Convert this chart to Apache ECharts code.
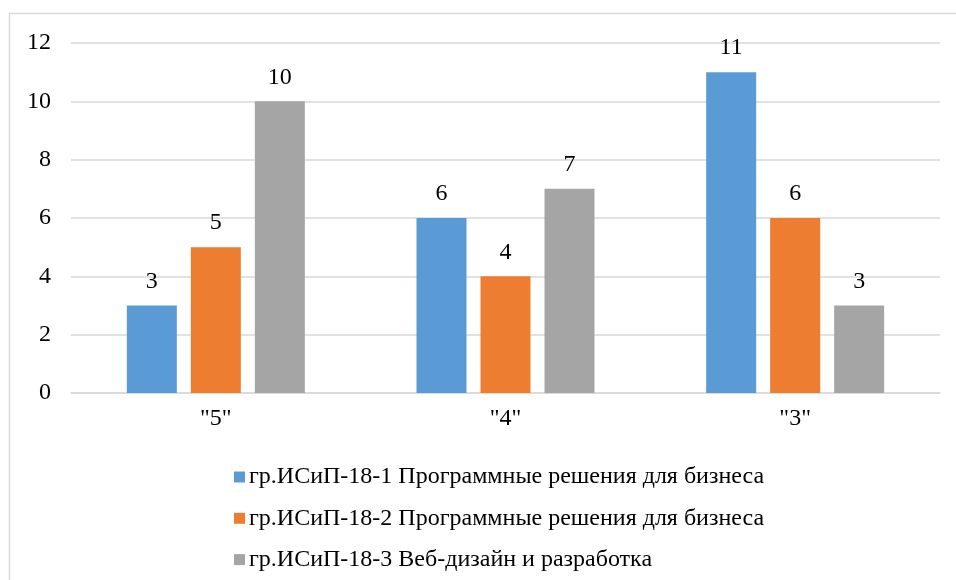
<!DOCTYPE html>
<html>
<head>
<meta charset="utf-8">
<script src="https://cdn.jsdelivr.net/npm/echarts@6/dist/echarts.min.js"></script>
<style>
  html, body { margin: 0; padding: 0; background: #fff; }
  #chart { width: 956px; height: 580px; }
</style>
</head>
<body>
<div id="chart"></div>
<script>
// Grade categories and counts per student group
const categories = ['"5"', '"4"', '"3"'];
const seriesNames = [
  'гр.ИСиП-18-1 Программные решения для бизнеса',
  'гр.ИСиП-18-2 Программные решения для бизнеса',
  'гр.ИСиП-18-3 Веб-дизайн и разработка'
];
const group1 = [3, 6, 11];
const group2 = [5, 4, 6];
const group3 = [10, 7, 3];
const yTicks = [0, 2, 4, 6, 8, 10, 12];

const colors = ['#5B9BD5', '#ED7D31', '#A5A5A5'];
const FONT = 'Liberation Serif';
const FS = 24;

const chart = echarts.init(document.getElementById('chart'));

function barSeries(name, data, color) {
  return {
    name: name,
    type: 'bar',
    data: data,
    barWidth: 50,
    barGap: '28%',
    barCategoryGap: '38.5%',
    itemStyle: { color: color },
    label: {
      show: true,
      position: 'top',
      distance: 12,
      color: '#000',
      fontFamily: FONT,
      fontSize: FS
    }
  };
}

chart.setOption({
  animation: false,
  backgroundColor: '#fff',
  textStyle: { fontFamily: FONT },
  graphic: [{
    type: 'rect',
    shape: { x: 9.5, y: 13.5, width: 1000, height: 1000 },
    style: { fill: 'none', stroke: '#d9d9d9', lineWidth: 1.5 },
    silent: true
  }],
  grid: { left: 71, right: 16, top: 43, bottom: 187, containLabel: false },
  legend: {
    orient: 'vertical',
    left: 229,
    top: 460,
    itemWidth: 11,
    itemHeight: 11,
    itemGap: 17.3,
    icon: 'rect',
    textStyle: { fontFamily: FONT, fontSize: FS, color: '#000', lineHeight: 24, padding: [0, 0, 0, -1] },
    data: seriesNames
  },
  xAxis: {
    type: 'category',
    data: categories,
    axisLine: { lineStyle: { color: '#d9d9d9', width: 1.5 } },
    axisTick: { show: false },
    axisLabel: { color: '#000', fontFamily: FONT, fontSize: FS, margin: 14 }
  },
  yAxis: {
    type: 'value',
    min: yTicks[0],
    max: yTicks[yTicks.length - 1],
    interval: 2,
    axisLine: { show: false },
    axisTick: { show: false },
    splitLine: { lineStyle: { color: '#d9d9d9', width: 1.5 } },
    axisLabel: { color: '#000', fontFamily: FONT, fontSize: FS, margin: 20 }
  },
  series: [
    barSeries(seriesNames[0], group1, colors[0]),
    barSeries(seriesNames[1], group2, colors[1]),
    barSeries(seriesNames[2], group3, colors[2])
  ]
});
</script>
</body>
</html>
